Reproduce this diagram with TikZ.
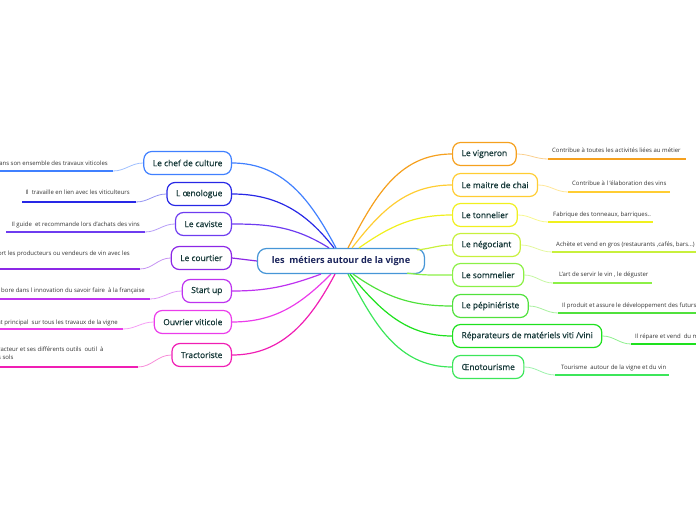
\documentclass[tikz,border=0pt]{standalone}
\usepackage{fontspec}
\setmainfont{Open Sans}
\newfontfamily\metierfont[FakeBold=0.6]{Open Sans}
\usetikzlibrary{positioning}

\definecolor{cChef}{RGB}{64,128,255}
\definecolor{cOeno}{RGB}{40,40,230}
\definecolor{cCav}{RGB}{110,60,240}
\definecolor{cCourt}{RGB}{140,40,230}
\definecolor{cStart}{RGB}{190,50,240}
\definecolor{cOuvr}{RGB}{235,60,235}
\definecolor{cTract}{RGB}{240,30,180}
\definecolor{cVign}{RGB}{245,160,30}
\definecolor{cChai}{RGB}{255,205,50}
\definecolor{cTonn}{RGB}{240,240,30}
\definecolor{cNego}{RGB}{200,240,60}
\definecolor{cSomm}{RGB}{140,240,70}
\definecolor{cPepi}{RGB}{80,225,60}
\definecolor{cRepa}{RGB}{30,225,30}
\definecolor{cOeto}{RGB}{60,230,90}
\definecolor{cCentre}{RGB}{70,150,215}
\definecolor{txtNode}{RGB}{20,55,55}
\definecolor{txtCentre}{RGB}{25,35,90}

\begin{document}
\begin{tikzpicture}[x=1pt, y=1pt,
  centre/.style={draw=cCentre, rounded corners=9pt, line width=1.2pt, fill=white,
    minimum width=167pt, minimum height=25pt, font=\fontsize{9.2}{11}\selectfont\bfseries, text=txtCentre},
  metier/.style={draw, rounded corners=8pt, line width=1.2pt, fill=white,
    minimum height=23pt, inner xsep=9pt, font=\metierfont\fontsize{8.4}{10}\selectfont, text=txtNode},
  branche/.style={line width=1.2pt},
  lien/.style={line width=0.8pt, opacity=0.5},
  souligne/.style={line width=1.8pt},
  note/.style={font=\fontsize{6}{8}\selectfont, text=black!80, inner sep=0pt}]

\useasboundingbox (0,0) rectangle (696,520);

% centre
\node[centre] (vigne) at (341,259) {les\ \ métiers autour de la vigne};

% metiers a gauche
\node[metier, draw=cChef, anchor=east]  (chef)    at (232,357) {Le chef de culture};
\node[metier, draw=cOeno, anchor=east]  (oeno)    at (232,326) {L œnologue};
\node[metier, draw=cCav, anchor=east]   (caviste) at (232,296) {Le caviste};
\node[metier, draw=cCourt, anchor=east] (courtier) at (232,262) {Le courtier};
\node[metier, draw=cStart, anchor=east] (startup) at (232,229) {Start up};
\node[metier, draw=cOuvr, anchor=east]  (ouvrier) at (232,198) {Ouvrier viticole};
\node[metier, draw=cTract, anchor=east] (tract)   at (232,165) {Tractoriste};

% metiers a droite
\node[metier, draw=cVign, anchor=west] (vigneron) at (452,366) {Le vigneron};
\node[metier, draw=cChai, anchor=west] (chai)     at (452,335) {Le maitre de chai};
\node[metier, draw=cTonn, anchor=west] (tonnel)   at (452,305) {Le tonnelier};
\node[metier, draw=cNego, anchor=west] (nego)     at (452,275) {Le négociant};
\node[metier, draw=cSomm, anchor=west] (somm)     at (452,245) {Le sommelier};
\node[metier, draw=cPepi, anchor=west] (pepi)     at (452,214) {Le pépiniériste};
\node[metier, draw=cRepa, anchor=west] (repa)     at (452,184) {Réparateurs de matériels viti /vini};
\node[metier, draw=cOeto, anchor=west] (oeto)     at (452,153) {Œnotourisme};

% branches
\draw[branche, cChef]  ([xshift=-5pt]vigne.north) to[out=118,in=0] (chef.east);
\draw[branche, cOeno]  ([xshift=-7pt]vigne.north) to[out=128,in=0] (oeno.east);
\draw[branche, cCav]   ([xshift=-12pt]vigne.north) to[out=148,in=0] (caviste.east);
\draw[branche, cCourt] (vigne.west) -- (courtier.east);
\draw[branche, cStart] ([xshift=-20pt]vigne.south) to[out=-160,in=0] (startup.east);
\draw[branche, cOuvr]  ([xshift=-10pt]vigne.south) to[out=-135,in=0] (ouvrier.east);
\draw[branche, cTract] ([xshift=-6pt]vigne.south) to[out=-118,in=0] (tract.east);

\draw[branche, cVign] ([xshift=7pt]vigne.north) to[out=62,in=180] (vigneron.west);
\draw[branche, cChai] ([xshift=11pt]vigne.north) to[out=52,in=180] (chai.west);
\draw[branche, cTonn] ([xshift=18pt]vigne.north) to[out=35,in=180] (tonnel.west);
\draw[branche, cNego] ([xshift=-8pt,yshift=-2pt]vigne.north east) to[out=5,in=180] (nego.west);
\draw[branche, cSomm] ([xshift=-18pt,yshift=1pt]vigne.south east) to[out=-8,in=180] (somm.west);
\draw[branche, cPepi] ([xshift=12pt]vigne.south) to[out=-35,in=180] (pepi.west);
\draw[branche, cRepa] ([xshift=9pt]vigne.south) to[out=-50,in=180] (repa.west);
\draw[branche, cOeto] ([xshift=7pt]vigne.south) to[out=-62,in=180] (oeto.west);

% notes a gauche
\coordinate (chefA) at (113,349);    \coordinate (chefB) at (0,349);
\coordinate (oenoA) at (136,318);    \coordinate (oenoB) at (22,318);
\coordinate (cavA) at (145,288);     \coordinate (cavB) at (6,288);
\coordinate (courtA) at (140,251);   \coordinate (courtB) at (0,251);
\coordinate (startA) at (150,221);   \coordinate (startB) at (0,221);
\coordinate (ouvrA) at (123,191);    \coordinate (ouvrB) at (0,191);
\coordinate (tractA) at (138,153);   \coordinate (tractB) at (0,153);

\draw[lien, cChef]  (chef.west) to[out=180,in=0] (chefA);
\draw[souligne, cChef] (chefA) -- (chefB);
\draw[lien, cOeno]  (oeno.west) to[out=180,in=0] (oenoA);
\draw[souligne, cOeno] (oenoA) -- (oenoB);
\draw[lien, cCav]   (caviste.west) to[out=180,in=0] (cavA);
\draw[souligne, cCav] (cavA) -- (cavB);
\draw[lien, cCourt] (courtier.west) to[out=180,in=0] (courtA);
\draw[souligne, cCourt] (courtA) -- (courtB);
\draw[lien, cStart] (startup.west) to[out=180,in=0] (startA);
\draw[souligne, cStart] (startA) -- (startB);
\draw[lien, cOuvr]  (ouvrier.west) to[out=180,in=0] (ouvrA);
\draw[souligne, cOuvr] (ouvrA) -- (ouvrB);
\draw[lien, cTract] (tract.west) to[out=180,in=0] (tractA);
\draw[souligne, cTract] (tractA) -- (tractB);

\node[note, anchor=base east] (chefTxt)  at (108,354) {ans son ensemble des travaux viticoles};
\node[note, anchor=base east] (oenoTxt)  at (130,325) {Il\ \ travaille en lien avec les viticulteurs};
\node[note, anchor=base east] (cavTxt)   at (140,293) {Il guide\ \ et recommande lors d'achats des vins};
\node[note, anchor=base east] (courtTxt) at (130,264) {ort les producteurs ou vendeurs de vin avec les};
\node[note, anchor=base east] (startTxt) at (145,227) {bore dans l innovation du savoir faire\ \ à la française};
\node[note, anchor=base east] (ouvrTxt)  at (118,196) {nt principal\ \ sur tous les travaux de la vigne};
\node[note, anchor=north west, align=left] (tractTxt) at (-2,173.5) {racteur et ses différents outils\ \ outil\ \ à\\s sols};

% notes a droite
\coordinate (vignA) at (548,361);    \coordinate (vignB) at (686,361);
\coordinate (chaiA) at (568,328);    \coordinate (chaiB) at (670,328);
\coordinate (tonnA) at (548,298);    \coordinate (tonnB) at (653,298);
\coordinate (negoA) at (552,268);    \coordinate (negoB) at (696,268);
\coordinate (sommA) at (553,237);    \coordinate (sommB) at (652,237);
\coordinate (pepiA) at (558,207);    \coordinate (pepiB) at (696,207);
\coordinate (repaA) at (631,176);    \coordinate (repaB) at (696,176);
\coordinate (oetoA) at (555,145);    \coordinate (oetoB) at (669,145);

\draw[lien, cVign] (vigneron.east) to[out=0,in=180] (vignA);
\draw[souligne, cVign] (vignA) -- (vignB);
\draw[lien, cChai] (chai.east) to[out=0,in=180] (chaiA);
\draw[souligne, cChai] (chaiA) -- (chaiB);
\draw[lien, cTonn] (tonnel.east) to[out=0,in=180] (tonnA);
\draw[souligne, cTonn] (tonnA) -- (tonnB);
\draw[lien, cNego] (nego.east) to[out=0,in=180] (negoA);
\draw[souligne, cNego] (negoA) -- (negoB);
\draw[lien, cSomm] (somm.east) to[out=0,in=180] (sommA);
\draw[souligne, cSomm] (sommA) -- (sommB);
\draw[lien, cPepi] (pepi.east) to[out=0,in=180] (pepiA);
\draw[souligne, cPepi] (pepiA) -- (pepiB);
\draw[lien, cRepa] (repa.east) to[out=0,in=180] (repaA);
\draw[souligne, cRepa] (repaA) -- (repaB);
\draw[lien, cOeto] (oeto.east) to[out=0,in=180] (oetoA);
\draw[souligne, cOeto] (oetoA) -- (oetoB);

\node[note, anchor=base west] (vignTxt) at (552,367) {Contribue à toutes les activités liées au métier};
\node[note, anchor=base west] (chaiTxt) at (572,334) {Contribue à l 'élaboration des vins};
\node[note, anchor=base west] (tonnTxt) at (553,303) {Fabrique des tonneaux, barriques..};
\node[note, anchor=base west] (negoTxt) at (556,273) {Achète et vend en gros (restaurants ,cafés, bars...)};
\node[note, anchor=base west] (sommTxt) at (559,243) {L'art de servir le vin , le déguster};
\node[note, anchor=base west] (pepiTxt) at (562,212) {Il produit et assure le développement des futurs};
\node[note, anchor=base west] (repaTxt) at (635,182) {Il répare et vend\ \ du m};
\node[note, anchor=base west] (oetoTxt) at (561,151) {Tourisme\ \ autour de la vigne et du vin};

\end{tikzpicture}
\end{document}
